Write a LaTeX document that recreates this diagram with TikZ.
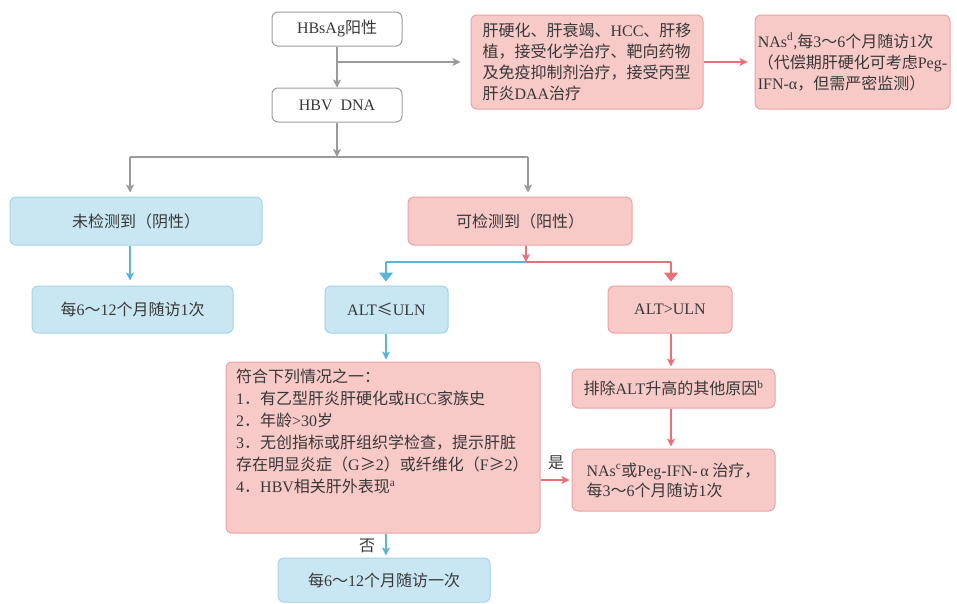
\documentclass[tikz,border=0pt]{standalone}
\usepackage{fontspec}
\setmainfont{Noto Sans CJK SC}
\newfontfamily\latfont{Liberation Serif}
\newcommand\latn[1]{{\latfont #1}}
\usetikzlibrary{arrows.meta}
\definecolor{txt}{HTML}{383838}
\definecolor{graybd}{HTML}{9C9C9C}
\definecolor{grayarr}{HTML}{9A9A9A}
\definecolor{pinkfill}{HTML}{F7C9C7}
\definecolor{pinkbd}{HTML}{EAA3A4}
\definecolor{bluefill}{HTML}{C9E7F3}
\definecolor{bluebd}{HTML}{A3D3E6}
\definecolor{bluearr}{HTML}{5DB3D8}
\definecolor{redarr}{HTML}{E8707A}
\tikzset{
  box/.style={rounded corners=6pt, line width=1pt, text=txt, inner sep=0pt, align=center},
  wbox/.style={box, draw=graybd, fill=white},
  pbox/.style={box, draw=pinkbd, fill=pinkfill},
  bbox/.style={box, draw=bluebd, fill=bluefill},
  gline/.style={draw=grayarr, line width=1.3pt},
  bline/.style={draw=bluearr, line width=1.3pt},
  rline/.style={draw=redarr, line width=1.3pt},
  garr/.style={gline, -{Stealth[length=8pt,width=8pt,inset=2pt]}},
  barr/.style={bline, -{Stealth[length=8pt,width=8pt,inset=2pt]}},
  rarr/.style={rline, -{Stealth[length=8pt,width=8pt,inset=2pt]}},
  barrbig/.style={bline, -{Triangle[length=9pt,width=14pt]}},
  rarrbig/.style={rline, -{Triangle[length=9pt,width=14pt]}},
  lbl/.style={text=txt, inner sep=0pt}
}
\begin{document}
\begin{tikzpicture}[x=1pt,y=-1pt,font=\fontsize{16}{21}\selectfont]
\useasboundingbox (0,0) rectangle (957,603);
% boxes
\node[wbox, minimum width=130pt, minimum height=34pt] (hbsag) at (337,29) {\latn{HBsAg}阳性};
\node[wbox, minimum width=130pt, minimum height=34pt] (hbv) at (337,105) {\latn{HBV\ \ DNA}};
\node[pbox, minimum width=232pt, minimum height=94pt, align=left] (p1) at (587,62)
  {肝硬化、肝衰竭、\latn{HCC}、肝移\\植，接受化学治疗、靶向药物\\及免疫抑制剂治疗，接受丙型\\肝炎\latn{DAA}治疗};
\node[pbox, minimum width=195pt, minimum height=94pt, align=left] (p2) at (852.5,62)
  {\latn{NAs\textsuperscript{d},}每\latn{3}～\latn{6}个月随访\latn{1}次\\（代偿期肝硬化可考虑\latn{Peg-}\\\latn{IFN-α}，但需严密监测）};
\node[bbox, minimum width=252pt, minimum height=48pt] (neg) at (136,221) {未检测到（阴性）};
\node[pbox, minimum width=224pt, minimum height=48pt] (pos) at (520,221) {可检测到（阳性）};
\node[bbox, minimum width=201pt, minimum height=47pt] (f1) at (132.5,309.5) {每\latn{6}～\latn{12}个月随访\latn{1}次};
\node[bbox, minimum width=123pt, minimum height=47pt] (le) at (386.5,309.5) {\latn{ALT}≤\latn{ULN}};
\node[pbox, minimum width=124pt, minimum height=47pt] (gt) at (670,309.5) {\latn{ALT>ULN}};
\node[pbox, minimum width=314pt, minimum height=171pt] (big) at (383,447.5) {};
\node[lbl, anchor=north west, align=left, font=\fontsize{16}{22}\selectfont] (bigtext) at (236,369)
  {符合下列情况之一：\\
   \latn{1}．有乙型肝炎肝硬化或\latn{HCC}家族史\\
   \latn{2}．年龄\latn{>30}岁\\
   \latn{3}．无创指标或肝组织学检查，提示肝脏\\
   存在明显炎症（\latn{G}≥\latn{2}）或纤维化（\latn{F}≥\latn{2}）\\
   \latn{4}．\latn{HBV}相关肝外表现\textsuperscript{\latn{a}}};
\node[pbox, minimum width=203pt, minimum height=39pt] (excl) at (673.5,388.5) {排除\latn{ALT}升高的其他原因\textsuperscript{\latn{b}}};
\node[pbox, minimum width=203pt, minimum height=62pt, align=left, font=\fontsize{16}{20}\selectfont] (nas) at (673.5,480)
  {\latn{NAs\textsuperscript{c}}或\latn{Peg-IFN-\,α} 治疗，\\每\latn{3}～\latn{6}个月随访\latn{1}次};
\node[bbox, minimum width=212pt, minimum height=44pt] (f2) at (384,580) {每\latn{6}～\latn{12}个月随访一次};
% junctions
\coordinate (j1) at (337,62);
\coordinate (j2) at (337,157);
\coordinate (jl) at (130,157);
\coordinate (jr) at (528,157);
\coordinate (j3) at (526,262);
\coordinate (jL) at (386,262);
\coordinate (jR) at (671,262);
% connectors
\draw[garr] (hbsag) -- (hbv);
\draw[garr, shorten >=10pt] (j1) -- (p1.west);
\draw[rarr, shorten >=7pt] (p1.east) -- (p2.west);
\draw[garr] (hbv.south) -- (j2);
\draw[gline] (jl) -- (jr);
\draw[garr, shorten >=4pt] (jl) -- (jl |- neg.north);
\draw[garr, shorten >=4pt] (jr) -- (jr |- pos.north);
\draw[barr, shorten >=5pt] (neg.south -| jl) -- (f1.north -| jl);
\draw[rarr] (pos.south -| j3) -- (j3);
\draw[bline] (j3) -- (jL);
\draw[rline] (j3) -- (jR);
\draw[barrbig, shorten >=4pt] (jL) -- (le.north -| jL);
\draw[rarrbig, shorten >=4pt] (jR) -- (gt.north -| jR);
\draw[barr, shorten >=2pt] (le.south -| jL) -- (big.north -| jL);
\draw[rarr, shorten >=2pt] (gt.south -| jR) -- (excl.north -| jR);
\draw[rarr, shorten >=2pt] (excl.south -| jR) -- (nas.north -| jR);
\draw[rarr, shorten >=2pt] (big.east |- nas.west) -- (nas.west);
\draw[barr, shorten >=2pt] (big.south -| jL) -- (f2.north -| jL);
\node[lbl] (yes) at (556,463) {是};
\node[lbl] (no) at (367,546) {否};
\end{tikzpicture}
\end{document}
